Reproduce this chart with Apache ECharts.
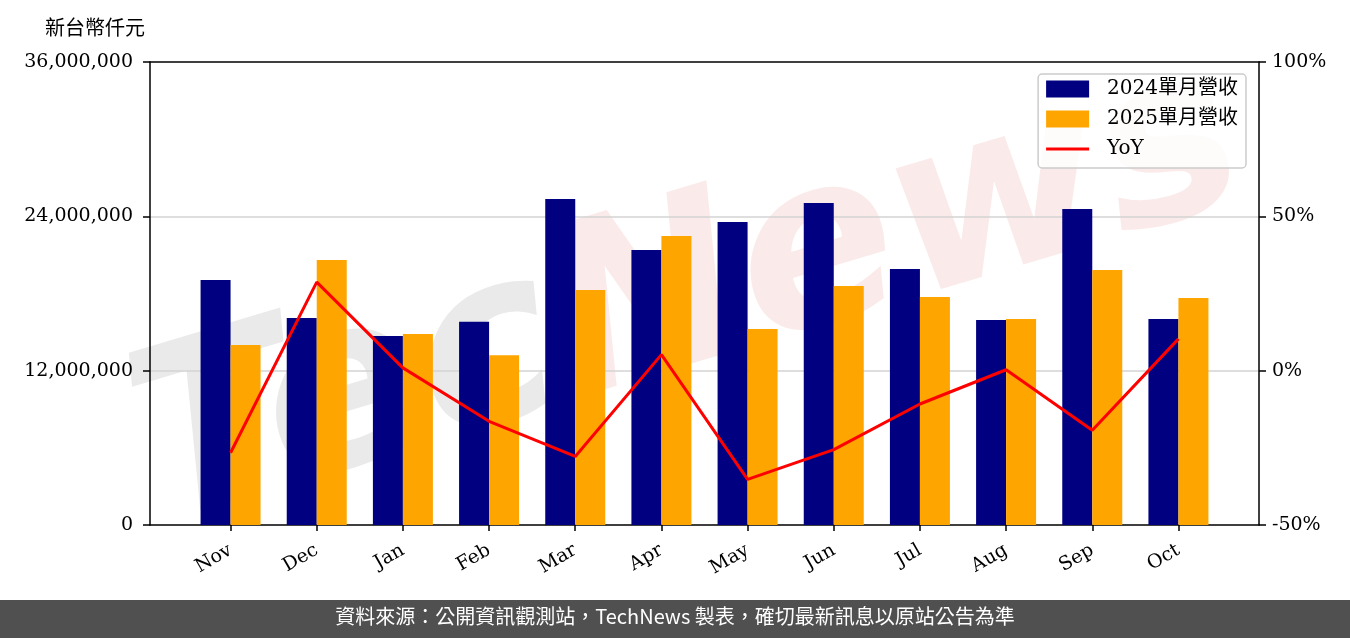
<!DOCTYPE html>
<html>
<head>
<meta charset="utf-8">
<script src="https://cdn.jsdelivr.net/npm/echarts@6/dist/echarts.min.js"></script>
<style>
html,body{margin:0;padding:0;background:#fff;}
#chart{width:1350px;height:638px;}
</style>
</head>
<body>
<div id="chart"></div>
<script>
const categories = ['Nov','Dec','Jan','Feb','Mar','Apr','May','Jun','Jul','Aug','Sep','Oct'];
const rev2024 = [19050000,16100000,14700000,15800000,25350000,21380000,23560000,25040000,19900000,15940000,24570000,16020000];
const rev2025 = [14000000,20600000,14850000,13200000,18270000,22470000,15240000,18580000,17730000,16020000,19830000,17650000];
const yoy = [-26.6,28.7,0.9,-16.4,-27.8,5.2,-35.2,-25.6,-10.8,0.3,-19.3,10.3];
const leftTicks = [0,12000000,24000000,36000000];
const rightTicks = [-50,0,50,100];
const seriesNames = ['2024單月營收','2025單月營收','YoY'];

const FONT = "'DejaVu Serif','Noto Sans CJK TC',serif";
const idx = categories.map((c,i)=>i);
const chart = echarts.init(document.getElementById('chart'), null, {renderer:'canvas'});
const option = {
  animation:false,
  backgroundColor:'#fff',
  textStyle:{fontFamily:FONT},
  grid:{left:150,right:91,top:62,bottom:113,containLabel:false},
  legend:{
    orient:'vertical', right:104, top:74,
    itemWidth:43, itemHeight:17, itemGap:10,
    padding:[5,8,9,8],
    backgroundColor:'rgba(255,255,255,0.8)',
    borderColor:'#cccccc', borderWidth:1.5, borderRadius:4,
    textStyle:{fontFamily:FONT,fontSize:20,lineHeight:20,color:'#000',padding:[0,0,0,13]},
    data:[
      {name:seriesNames[0],icon:'rect'},
      {name:seriesNames[1],icon:'rect'},
      {name:seriesNames[2],icon:'path://M0,0 M0,7 L43,7 L43,10 L0,10 Z M43,17'}
    ]
  },
  xAxis:[{
    type:'value', min:-0.935, max:11.935, position:'bottom',
    axisLine:{show:true,onZero:false,lineStyle:{color:'#000',width:1.5}},
    axisTick:{show:true,customValues:idx,length:6,lineStyle:{color:'#000',width:1.5}},
    axisLabel:{show:true,customValues:idx,rotate:30,margin:24,fontSize:19,color:'#000',fontFamily:FONT,
      formatter:function(v){return categories[Math.round(v)];}},
    splitLine:{show:false}
  },{
    type:'value', min:-0.935, max:11.935, position:'top',
    axisLine:{show:true,onZero:false,lineStyle:{color:'#000',width:1.5}},
    axisTick:{show:false}, axisLabel:{show:false}, splitLine:{show:false}
  }],
  yAxis:[{
    type:'value', min:leftTicks[0], max:leftTicks[leftTicks.length-1], interval:12000000,
    position:'left',
    axisLine:{show:true,onZero:false,lineStyle:{color:'#000',width:1.5}},
    axisTick:{show:true,length:7,lineStyle:{color:'#000',width:1.5}},
    axisLabel:{fontSize:19,color:'#000',margin:17,fontFamily:FONT,
      formatter:function(v){return v.toLocaleString('en-US');}},
    splitLine:{show:true,showMinLine:false,showMaxLine:false,lineStyle:{color:'#d3d3d3',width:1.5}}
  },{
    type:'value', min:rightTicks[0], max:rightTicks[rightTicks.length-1], interval:50,
    position:'right',
    axisLine:{show:true,onZero:false,lineStyle:{color:'#000',width:1.5}},
    axisTick:{show:true,length:7,lineStyle:{color:'#000',width:1.5}},
    axisLabel:{fontSize:19,color:'#000',margin:13,fontFamily:FONT,formatter:'{value}%'},
    splitLine:{show:false}
  }],
  series:[{
    name:seriesNames[0], type:'bar', xAxisIndex:0, yAxisIndex:0,
    barWidth:30, barGap:'0%',
    itemStyle:{color:'#000080'},
    data:rev2024.map((v,i)=>[i,v])
  },{
    name:seriesNames[1], type:'bar', xAxisIndex:0, yAxisIndex:0,
    barWidth:30, barGap:'0%',
    itemStyle:{color:'#FFA500'},
    data:rev2025.map((v,i)=>[i,v])
  },{
    name:seriesNames[2], type:'line', xAxisIndex:0, yAxisIndex:1,
    symbol:'none', showSymbol:false, lineStyle:{color:'#ff0000',width:3}, itemStyle:{color:'#ff0000'},
    data:yoy.map((v,i)=>[i,v]), z:5
  }],
  graphic:[
    {type:'text', left:45, top:17, style:{text:'新台幣仟元', font:"20px 'Noto Sans CJK TC'", fill:'#000'}},
    {type:'group', x:177, y:576, rotation:0.29, silent:true, z:100, children:[
      {type:'text', x:0, y:0, silent:true, style:{
        text:'{a|Tec}{b|News}', textVerticalAlign:'bottom',
        rich:{
          a:{fontSize:235, fontStyle:'italic', fontWeight:'bold', fontFamily:"'DejaVu Sans'", fill:'rgba(150,150,150,0.2)'},
          b:{fontSize:235, fontStyle:'italic', fontWeight:'bold', fontFamily:"'DejaVu Sans'", fill:'rgba(220,80,80,0.12)'}
        }
      }}
    ]},
    {type:'rect', left:0, top:600, shape:{width:1350,height:38}, style:{fill:'#505050'}, z:150},
    {type:'text', left:'center', top:606, z:151, style:{text:'資料來源：公開資訊觀測站，TechNews 製表，確切最新訊息以原站公告為準', font:"20px 'Noto Sans CJK TC'", fill:'#fff'}}
  ]
};
chart.setOption(option);
</script>
</body>
</html>
